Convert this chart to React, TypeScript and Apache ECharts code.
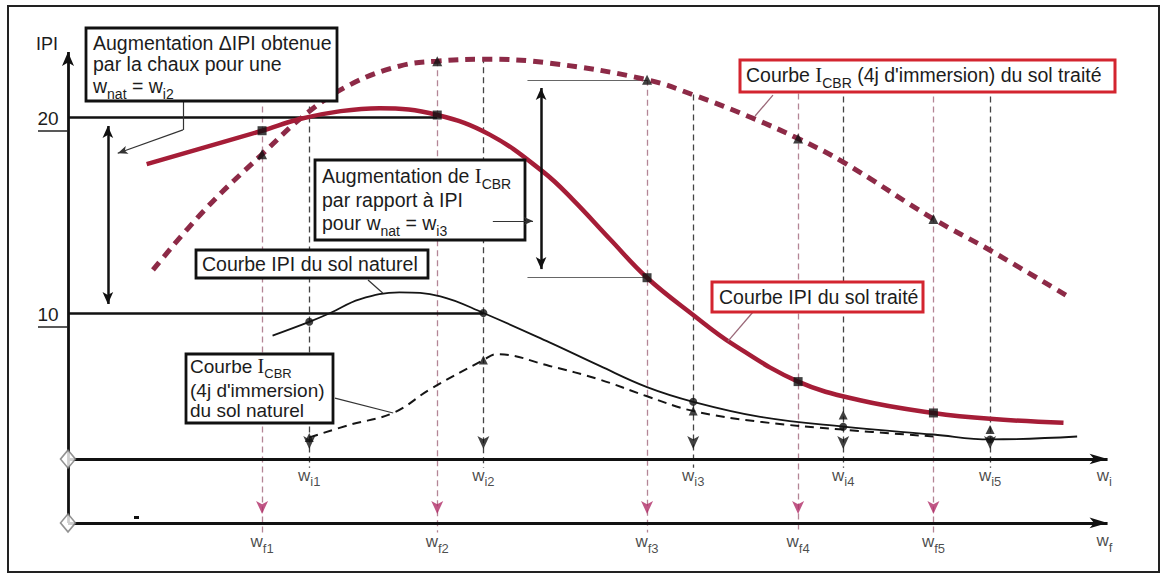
import React, { useEffect, useRef } from "react";
import * as echarts from "echarts";

const FONT = '"Liberation Sans", Arimo, Arial, Helvetica, sans-serif';
const SERIF = '"Liberation Serif", "Times New Roman", serif';

// ---------- data (schematic units: x = water content w, y = IPI / I_CBR) ----------
const wfTicks = [18.5, 35.2, 55.2, 69.6, 82.5];
const wiTicks = [23.0, 39.6, 59.6, 73.9, 87.9];
const wfTickLabels = ["f1", "f2", "f3", "f4", "f5"];
const wiTickLabels = ["i1", "i2", "i3", "i4", "i5"];
const ipiTicks = [20, 10];
const ipiTickLabels = ["20", "10"];
const wfLineTop = [20.54, 22.9, 21.9, 21.2, 21.05];
const wiLineTop = [20.54, 23.05, 21.15, 21.05, 21.05];

// Courbe IPI du sol traité
const ipiTreated = [
  [7.5, 17.6], [18.5, 19.3], [22.1, 19.9], [26.0, 20.3], [29.7, 20.45], [35.2, 20.1],
  [40.2, 19.1], [45.3, 17.2], [48.1, 15.8], [51.7, 13.75], [55.2, 11.8], [59.6, 9.9],
  [63.4, 8.4], [69.6, 6.5], [75.5, 5.55], [82.5, 4.9], [87.9, 4.6], [94.9, 4.4],
];
// Courbe I_CBR (4j d'immersion) du sol traité
const cbrTreated = [
  [8.1, 12.2], [13.1, 15.3], [18.5, 18.1], [22.8, 20.2], [26.9, 21.65], [31.6, 22.6],
  [35.2, 22.85], [39.6, 22.95], [45.9, 22.75], [55.2, 21.9], [60.0, 21.05], [65.0, 20.0],
  [69.6, 18.9], [73.9, 17.7], [82.5, 14.8], [87.9, 13.2], [95.3, 10.85],
];
// Courbe IPI du sol naturel
const ipiNatural = [
  [19.5, 8.85], [23.0, 9.55], [25.0, 10.0], [27.8, 10.7], [31.6, 11.05], [35.5, 10.85],
  [39.6, 10.0], [45.9, 8.5], [50.7, 7.3], [55.2, 6.22], [59.6, 5.47], [66.0, 4.7],
  [73.9, 4.2], [82.5, 3.8], [87.9, 3.55], [96.2, 3.7],
];
// Courbe I_CBR (4j d'immersion) du sol naturel
const cbrNatural = [
  [23.0, 3.65], [26.9, 4.3], [31.0, 4.9], [34.5, 6.1], [39.6, 7.6], [40.9, 7.9],
  [45.9, 7.3], [50.7, 6.6], [55.2, 5.75], [59.6, 5.0], [66.0, 4.45], [73.9, 4.05], [82.5, 3.7],
];

const ipiTreatedAtWf = [19.3, 20.1, 11.8, 6.5, 4.9];
const cbrTreatedAtWf = [18.1, 22.85, 21.9, 18.9, 14.8];
const ipiNaturalAtWi = [9.55, 10.0, 5.47, 4.2, 3.55];
const cbrNaturalAtWi = [3.65, 7.6, 5.0, 4.8, 4.05];

// ---------- styles ----------
const INK = "#1c1c1c";
const RED_LINE = "#a51d37";
const RED_DOT = "#8d2a47";
const RED_BOX = "#d3252f";
const PINK_V = "#b48596";
const PINK_ARROW = "#b02c66";
const WI_LEVEL = 2.55;
const WF_LEVEL = -0.71;

const curve = (data: number[][], color: string, width: number, type: any, z: number) => ({
  type: "line",
  data,
  smooth: 0.4,
  symbol: "none",
  silent: true,
  z,
  lineStyle: { color, width, type, cap: "butt" },
});

const marks = (xs: number[], ys: number[], symbol: string, size: any, color: string, extra: any = {}) => ({
  type: "scatter",
  data: xs.map((x, i) => [x, ys[i]]),
  symbol,
  symbolSize: size,
  itemStyle: { color },
  silent: true,
  z: 6,
  ...extra,
});

const ml = (data: any[], lineStyle: any, z = 1) => ({
  type: "line",
  data: [],
  silent: true,
  z,
  markLine: {
    silent: true,
    z,
    symbol: ["none", "none"],
    symbolSize: [8, 14],
    label: { show: false },
    emphasis: { disabled: true },
    lineStyle,
    data,
    animation: false,
  },
});

const tickRich = {
  w: { fontSize: 17, fontFamily: FONT, color: INK, lineHeight: 22 },
  s: { fontSize: 13, fontFamily: FONT, color: INK, height: 9, verticalAlign: "bottom" },
};

const tickLabels = (xs: number[], level: number, subs: string[], distance: number) => ({
  type: "scatter",
  data: xs.map((x) => [x, level]),
  symbolSize: 0,
  itemStyle: { color: "transparent" },
  silent: true,
  z: 8,
  label: {
    show: true,
    position: "bottom",
    distance,
    formatter: (p: any) => `{w|w}{s|${subs[p.dataIndex]}}`,
    rich: tickRich,
  },
});

const boxRich = (size: number, sub: number) => ({
  n: { fontSize: size, fontFamily: FONT, fill: INK, lineHeight: size + 4 },
  s: { fontSize: sub, fontFamily: FONT, fill: INK, height: 8, verticalAlign: "bottom" },
  I: { fontSize: size + 1, fontFamily: SERIF, fill: INK, lineHeight: size + 4 },
});

const txt = (x: number, y: number, text: string, size = 19.5, align = "left", sub = 14) => ({
  type: "text",
  x,
  y,
  z: 101,
  silent: true,
  style: {
    text,
    fontSize: size,
    fontFamily: FONT,
    fill: INK,
    align,
    verticalAlign: "middle",
    textAlign: align,
    textVerticalAlign: "middle",
    rich: boxRich(size, sub),
  },
});

const box = (x: number, y: number, w: number, h: number, stroke: string, lw: number) => ({
  type: "rect",
  z: 100,
  silent: true,
  shape: { x, y, width: w, height: h },
  style: { fill: "#fff", stroke, lineWidth: lw },
});

export default function App() {
  const ref = useRef<HTMLDivElement>(null);

  useEffect(() => {
    const el = ref.current!;
    const chart = echarts.init(el, null, { renderer: "svg" });

    const option: any = {
      animation: false,
      backgroundColor: "#fff",
      grid: { left: 68, right: 54, top: 38.6, bottom: 16 },
      xAxis: { type: "value", min: 0, max: 100, show: false },
      yAxis: { type: "value", min: -2.5, max: 24, show: false },
      series: [
        // vertical guide lines
        ml(
          wiTicks.map((x, i) => [{ coord: [x, wiLineTop[i]] }, { coord: [x, 2.1] }]),
          { color: "#444", width: 1.3, type: [6, 4] },
          1
        ),
        ml(
          wfTicks.map((x, i) => [{ coord: [x, wfLineTop[i]] }, { coord: [x, -1.2] }]),
          { color: PINK_V, width: 1.3, type: [6, 4] },
          1
        ),
        // reference levels 20 / 10
        ml(
          [
            [{ coord: [0, ipiTicks[0]] }, { coord: [wfTicks[1], ipiTicks[0]] }],
            [{ coord: [0, ipiTicks[1]] }, { coord: [wiTicks[1], ipiTicks[1]] }],
          ],
          { color: "#111", width: 2.5, type: "solid" },
          1
        ),
        // thin levels for the I_CBR increase
        ml(
          [
            [{ coord: [43.8, cbrTreatedAtWf[2]] }, { coord: [wfTicks[2], cbrTreatedAtWf[2]] }],
            [{ coord: [43.8, ipiTreatedAtWf[2]] }, { coord: [wfTicks[2], ipiTreatedAtWf[2]] }],
          ],
          { color: "#666", width: 1, type: "solid" },
          1
        ),
        // double arrows
        ml(
          [
            [
              { coord: [3.8, 19.54], symbol: "arrow", symbolSize: [8, 12] },
              { coord: [3.8, 10.46], symbol: "arrow", symbolSize: [8, 12] },
            ],
            [
              { coord: [45.1, 21.48], symbol: "arrow", symbolSize: [8, 12] },
              { coord: [45.1, 12.24], symbol: "arrow", symbolSize: [8, 12] },
            ],
          ],
          { color: "#111", width: 2.5, type: "solid" },
          4
        ),
        // callouts
        ml(
          [
            [{ coord: [10.96, 20.82] }, { coord: [10.96, 19.34] }],
            [{ coord: [10.96, 19.34] }, { coord: [4.74, 18.15], symbol: "arrow", symbolSize: [6, 10] }],
            [{ coord: [28.6, 11.68] }, { coord: [30.0, 11.02] }],
            [{ coord: [25.45, 5.66] }, { coord: [31.0, 4.9] }],
          ],
          { color: "#333", width: 1.2, type: "solid" },
          4
        ),
        // arrow drawn over box B
        ml(
          [[{ coord: [40.5, 14.69] }, { coord: [44.33, 14.69], symbol: "arrow", symbolSize: [6, 9] }]],
          { color: "#333", width: 1.2, type: "solid" },
          150
        ),
        ml(
          [
            [{ coord: [67.2, 21.12] }, { coord: [65.5, 20.05] }],
            [{ coord: [65.3, 10.05] }, { coord: [62.9, 8.55] }],
          ],
          { color: "#9a6878", width: 1.3, type: "solid" },
          4
        ),
        // curves
        curve(cbrTreated, RED_DOT, 5, [10, 7], 3),
        curve(ipiTreated, RED_LINE, 4.5, "solid", 3),
        curve(ipiNatural, "#151515", 1.8, "solid", 3),
        curve(cbrNatural, "#151515", 2, [9, 6], 3),
        // main axes
        ml(
          [
            [{ coord: [0, WF_LEVEL] }, { coord: [0, 23.32], symbol: "arrow", symbolSize: [9, 14] }],
            [{ coord: [0, WI_LEVEL] }, { coord: [99.1, WI_LEVEL], symbol: "arrow", symbolSize: [8, 18] }],
            [{ coord: [0, WF_LEVEL] }, { coord: [99.1, WF_LEVEL], symbol: "arrow", symbolSize: [8, 18] }],
          ],
          { color: "#111", width: 2.8, type: "solid" },
          5
        ),
        // markers
        marks(wfTicks, ipiTreatedAtWf, "rect", 9, "#111"),
        marks(wfTicks, cbrTreatedAtWf, "triangle", 10, "#111"),
        marks(wiTicks, ipiNaturalAtWi, "circle", 8, "#111"),
        marks(wiTicks, cbrNaturalAtWi, "triangle", 9, "#111"),
        marks(wiTicks, wiTicks.map(() => WI_LEVEL), "arrow", [9, 13], "#111", {
          symbolRotate: 180,
          symbolOffset: [0, -10],
        }),
        marks(wfTicks, wfTicks.map(() => WF_LEVEL), "arrow", [9, 13], PINK_ARROW, {
          symbolRotate: 180,
          symbolOffset: [0, -9],
        }),
        marks([0, 0], [WI_LEVEL, WF_LEVEL], "diamond", [15, 18], "#fff", {
          itemStyle: { color: "#fff", borderColor: "#777", borderWidth: 1.6 },
          z: 9,
        }),
        // tick labels
        tickLabels(wiTicks, WI_LEVEL, wiTickLabels, 5),
        tickLabels(wfTicks, WF_LEVEL, wfTickLabels, 8),
        tickLabels([98.8], WI_LEVEL, ["i"], 5),
        tickLabels([98.8], WF_LEVEL, ["f"], 7),
      ],
    };

    chart.setOption(option);

    const toPx = (x: number, y: number) =>
      chart.convertToPixel({ gridIndex: 0 }, [x, y]) as unknown as number[];

    const tickGraphics: any[] = [];
    ipiTicks.forEach((v, i) => {
      const [px, py] = toPx(0, v);
      tickGraphics.push(txt(px - 20, py + 1, ipiTickLabels[i], 19, "center"));
      tickGraphics.push({
        type: "line",
        z: 100,
        silent: true,
        shape: { x1: px - 30, y1: py + 14, x2: px, y2: py + 14 },
        style: { stroke: "#222", lineWidth: 1.5 },
      });
    });

    const graphic: any[] = [
      {
        type: "rect",
        z: 0,
        silent: true,
        shape: { x: 8, y: 6, width: 1151, height: 566 },
        style: { fill: "none", stroke: "#222", lineWidth: 2 },
      },
      { type: "rect", z: 100, silent: true, shape: { x: 134, y: 516, width: 5, height: 3 }, style: { fill: "#111" } },
      txt(47, 44, "IPI", 18, "center"),
      ...tickGraphics,
      // Box A
      box(86, 28, 251, 73, "#111", 2.8),
      txt(93, 43, "Augmentation ΔIPI obtenue"),
      txt(93, 64, "par la chaux pour une"),
      txt(93, 86, "{n|w}{s|nat}{n| = w}{s|i2}"),
      // Box B
      box(315, 160, 210, 80, "#111", 2.8),
      txt(322, 176, "{n|Augmentation de }{I|I}{s|CBR}"),
      txt(322, 200, "par rapport à IPI"),
      txt(322, 223, "{n|pour w}{s|nat}{n| = w}{s|i3}"),
      // Box C
      box(196, 250, 232, 28, "#111", 2.8),
      txt(202, 264, "Courbe IPI du sol naturel"),
      // Box D
      box(186, 354, 147, 69, "#111", 2.8),
      txt(190, 366, "{n|Courbe }{I|I}{s|CBR}", 19, "left", 13),
      txt(190, 390, "(4j d'immersion)", 19),
      txt(190, 410, "du sol naturel", 19),
      // Box E
      box(740, 60, 375, 32, RED_BOX, 3),
      txt(746, 75, "{n|Courbe }{I|I}{s|CBR}{n| (4j d'immersion) du sol traité}"),
      // Box F
      box(712, 282, 211, 30, RED_BOX, 3),
      txt(719, 297, "Courbe IPI du sol traité"),
    ];

    chart.setOption({ graphic });

    return () => chart.dispose();
  }, []);

  return (
    <div
      ref={ref}
      style={{ position: "fixed", left: 0, top: 0, width: 1171, height: 574, background: "#fff" }}
    />
  );
}
